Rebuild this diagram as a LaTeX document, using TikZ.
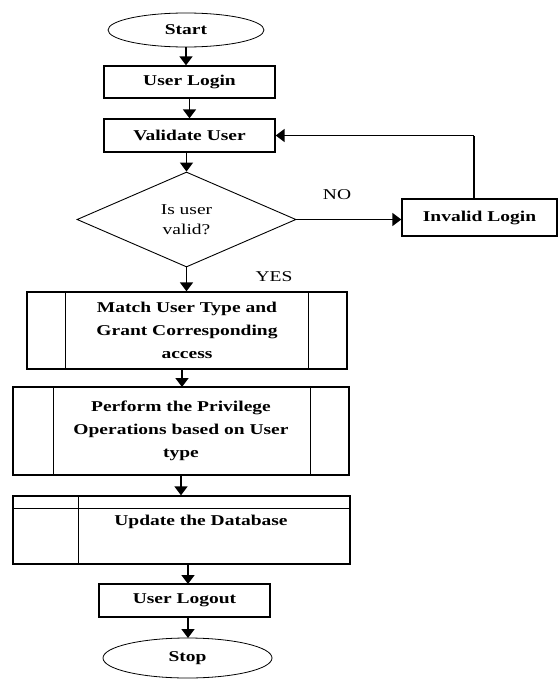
\documentclass[tikz,border=0pt]{standalone}
\usepackage{fontspec}
\setmainfont[FakeStretch=1.3]{Liberation Serif}
\usetikzlibrary{shapes.geometric,arrows.meta}
\tikzset{
	flowline/.style={line width=1.6pt, -{Triangle[length=9pt,width=13pt]}},
	backline/.style={line width=1.2pt},
	termbox/.style={ellipse, draw, line width=0.8pt, inner sep=0pt, font={\fontsize{15}{23}\selectfont\bfseries}},
	stepbox/.style={rectangle, draw, line width=1.3pt, inner sep=0pt, align=center, font={\fontsize{15}{23}\selectfont\bfseries}},
	askbox/.style={diamond, draw, line width=0.9pt, inner sep=0pt, align=center, font={\fontsize{15}{20}\selectfont}},
	tagtext/.style={font={\fontsize{15}{20}\selectfont}}
}
\def\sidebars(#1)(#2:#3){\draw[line width=1.3pt] ([xshift=#2]#1.north west) -- ([xshift=#2]#1.south west); \draw[line width=1.3pt] ([xshift=-#3]#1.north east) -- ([xshift=-#3]#1.south east);}

\begin{document}
\begin{tikzpicture}[x=1pt, y=-1pt]
		%%%%% START %%%%%
		\useasboundingbox (0, 0) rectangle (558, 680);
		
		\node[termbox, minimum width=156pt, minimum height=34pt] (start) at (186, 30) {Start};
		\node[stepbox, minimum width=171pt, minimum height=32pt] (login) at (189.5, 82) {User Login};
		\node[stepbox, minimum width=171pt, minimum height=33pt] (validate) at (189.5, 135.5) {Validate User};
		\node[askbox, minimum width=219pt, minimum height=95pt] (valid) at (186.5, 219.5) {Is user\\valid?};
		\node[stepbox, minimum width=155pt, minimum height=37pt] (invalid) at (479.5, 217.5) {Invalid Login};
		
		\node[stepbox, minimum width=320pt, minimum height=77pt] (match) at (187, 330.5) {Match User Type and\\Grant Corresponding\\access};
		\sidebars(match)(39pt:39pt);
		\node[stepbox, minimum width=336pt, minimum height=88pt] (perform) at (181, 431) {Perform the Privilege\\Operations based on User\\type};
		\sidebars(perform)(41pt:39pt);
		
		\node[stepbox, minimum width=337pt, minimum height=68pt] (update) at (181.5, 530) {};
		\draw[line width=1.3pt] ([yshift=-13pt]update.north west) -- ([yshift=-13pt]update.north east);
		\draw[line width=1.3pt] ([xshift=66pt]update.north west) -- ([xshift=66pt]update.south west);
		\node[font={\fontsize{15}{23}\selectfont\bfseries}] (updtext) at (201, 522) {Update the Database};
		
		\node[stepbox, minimum width=171pt, minimum height=33pt] (logout) at (184.5, 600.5) {User Logout};
		\node[termbox, minimum width=169pt, minimum height=40pt] (stop) at (187.5, 658) {Stop};
		
		\node[tagtext] (no) at (337, 195) {NO};
		\node[tagtext] (yes) at (274, 277) {YES};
		
		\draw[flowline] (start.south) -- (start.south |- login.north);
		\draw[flowline] (login.south) -- (login.south |- validate.north);
		\draw[flowline] (valid.north |- validate.south) -- (valid.north);
		\draw[flowline] (valid.south) -- (valid.south |- match.north);
		\draw[flowline] (valid.east) -- (invalid.west |- valid.east);
		
		\coordinate (back) at (474, 135.5);
		\draw[backline] (invalid.north -| back) -- (back);
		\draw[flowline] (back) -- (validate.east);
		
		\draw[flowline] (182, 369) -- (182, 387);
		\draw[flowline] (perform.south) -- (perform.south |- update.north);
		\draw[flowline] (188, 564) -- (188, 584);
		\draw[flowline] (188, 617) -- (188, 638);
		%%%%% END %%%%%
	\end{tikzpicture}
\end{document}
